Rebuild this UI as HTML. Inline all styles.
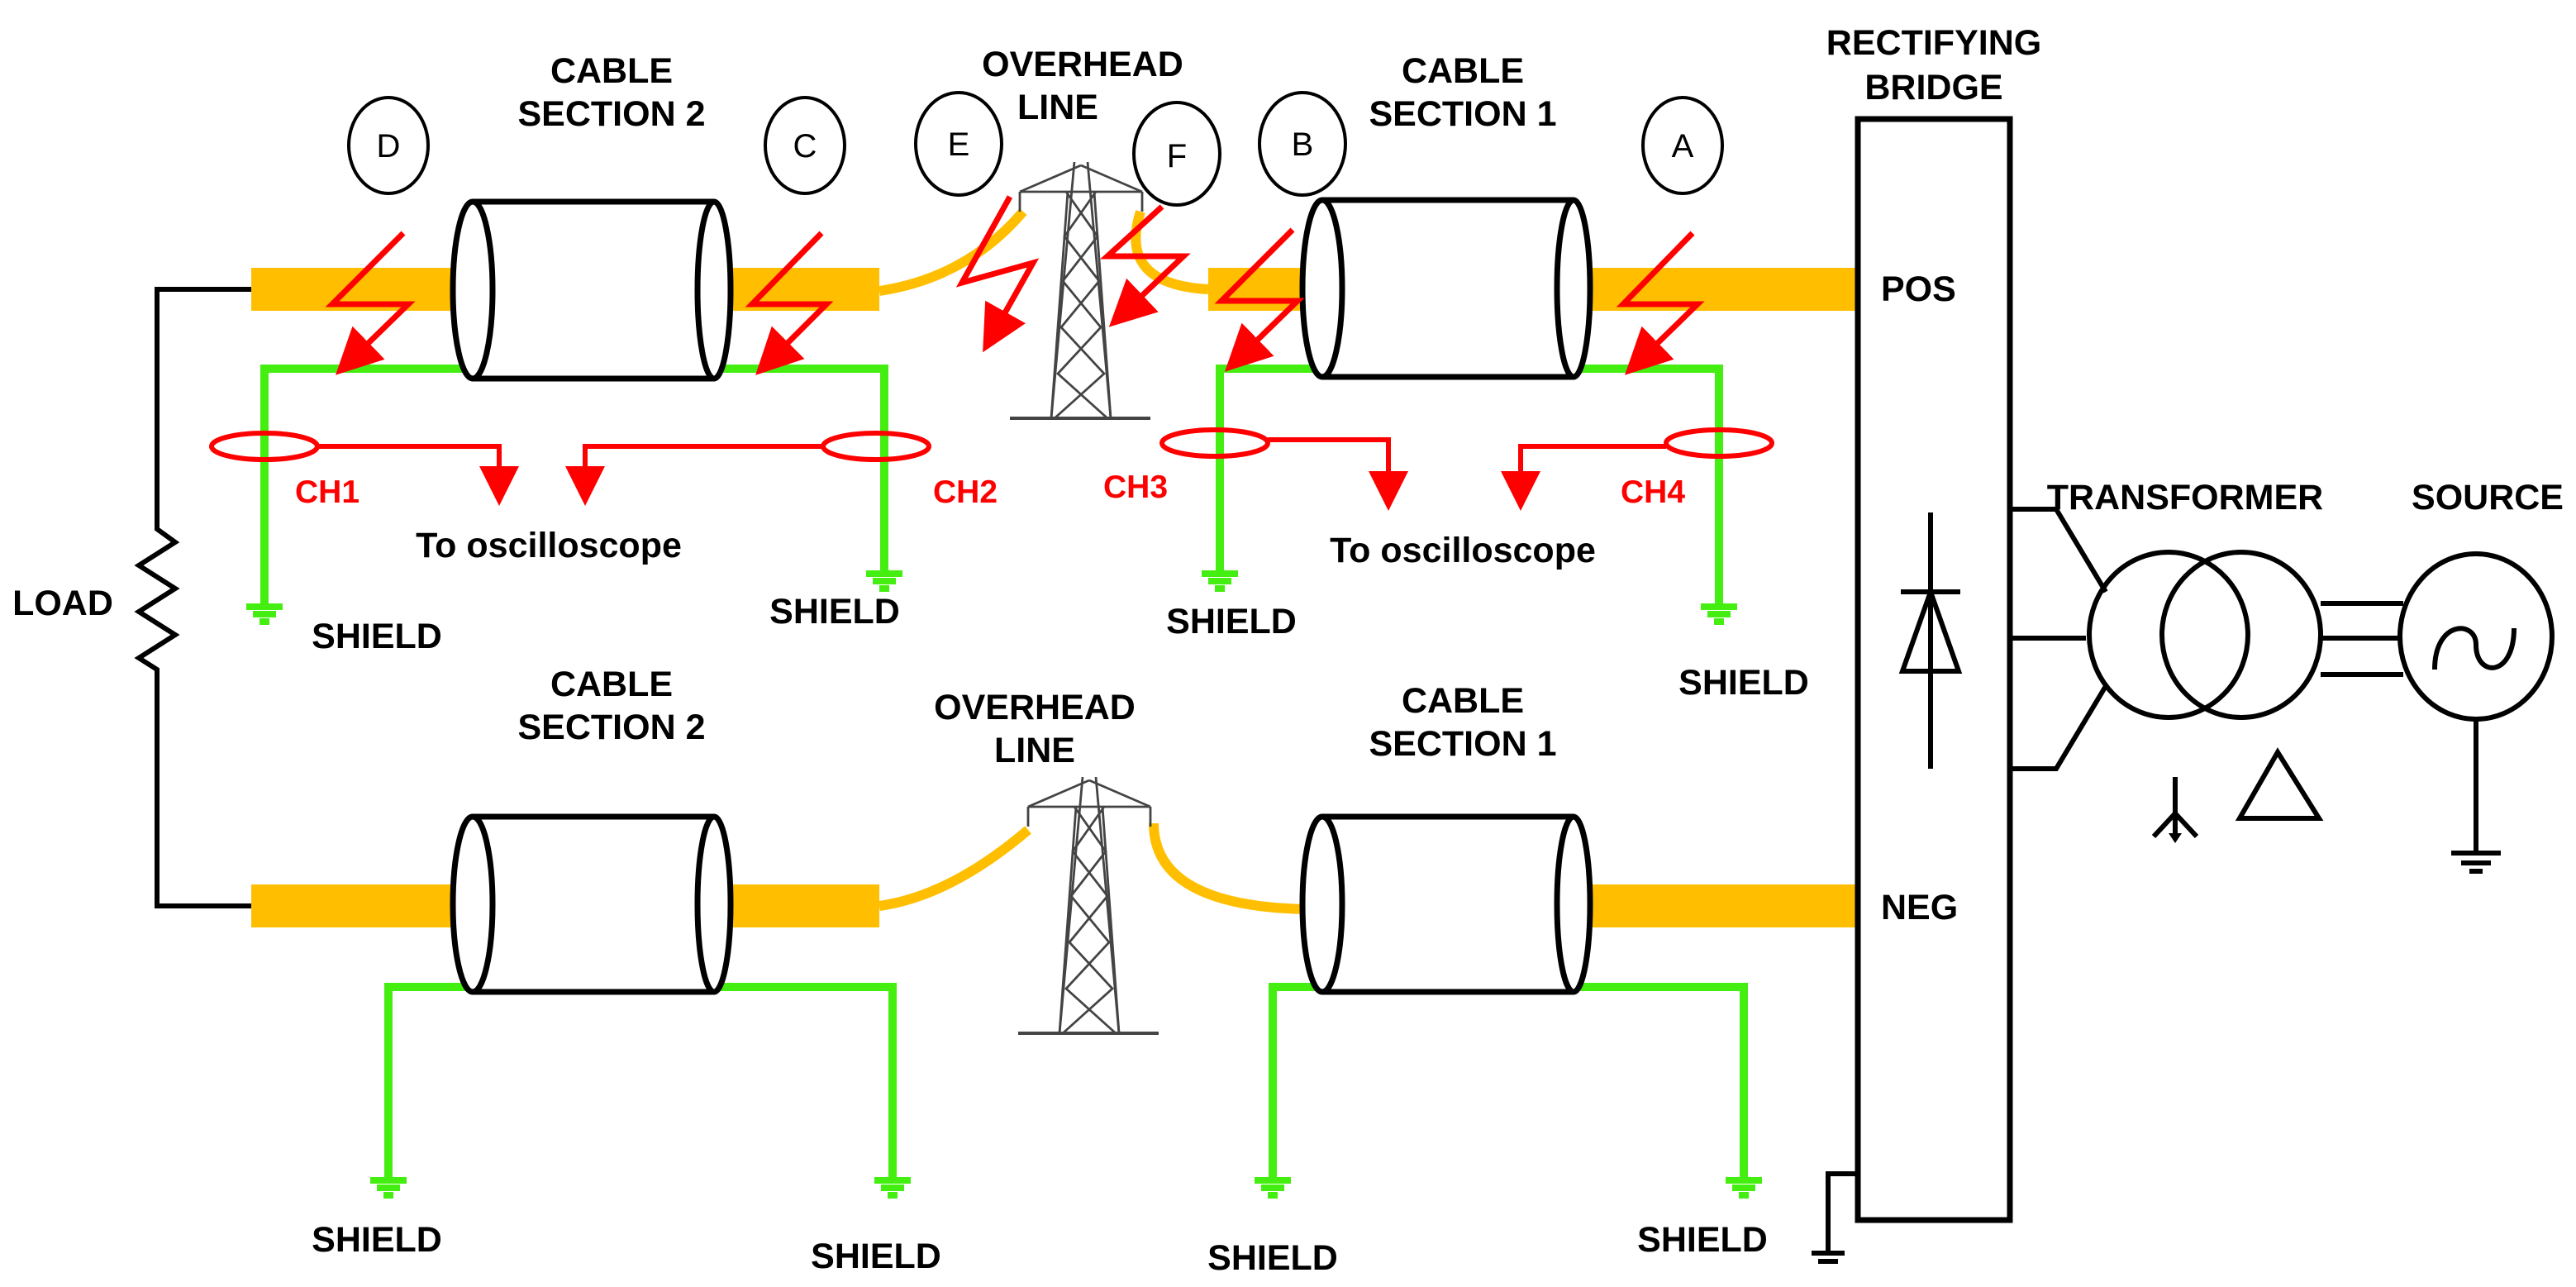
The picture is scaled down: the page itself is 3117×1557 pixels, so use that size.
<!DOCTYPE html>
<html><head><meta charset="utf-8"><style>html,body{margin:0;padding:0;background:#fff}svg{display:block}</style></head><body>
<svg width="3117" height="1557" viewBox="0 0 1558.5 778.5" xmlns="http://www.w3.org/2000/svg" font-family="Liberation Sans, Arial, sans-serif" font-weight="bold">
<defs>
<g id="gnd"><line x1="-11" y1="0" x2="11" y2="0" stroke="#44ee11" stroke-width="4"/><line x1="-7" y1="4.5" x2="7" y2="4.5" stroke="#44ee11" stroke-width="4"/><line x1="-3" y1="9" x2="3" y2="9" stroke="#44ee11" stroke-width="4"/></g>
<marker id="ah" markerWidth="8" markerHeight="8" refX="6" refY="4" orient="auto" markerUnits="strokeWidth"><path d="M0,0 L8,4 L0,8 z" fill="#ff0000"/></marker>
<g id="tower" stroke="#444" stroke-width="1.4" fill="none">
<line x1="-37" y1="18" x2="37" y2="18"/><line x1="-37" y1="18" x2="0" y2="2"/><line x1="37" y1="18" x2="0" y2="2"/>
<line x1="-37" y1="18" x2="-37" y2="30"/><line x1="37" y1="18" x2="37" y2="30"/>
<line x1="-4" y1="0" x2="-18" y2="155"/><line x1="4" y1="0" x2="18" y2="155"/>
<line x1="-8" y1="18" x2="-18" y2="155"/><line x1="8" y1="18" x2="18" y2="155"/>
<path d="M-9,18 L10,45 L-11,72 L12,100 L-14,128 L16,155 M9,18 L-10,45 L11,72 L-12,100 L14,128 L-16,155"/>
<line x1="-43" y1="155" x2="42" y2="155" stroke-width="2"/></g>
</defs>
<g font-size="21.5" text-anchor="middle" fill="#000">
<text x="370" y="50">CABLE</text><text x="370" y="76">SECTION 2</text>
<text x="655" y="46">OVERHEAD</text><text x="640" y="72">LINE</text>
<text x="885" y="50">CABLE</text><text x="885" y="76">SECTION 1</text>
<text x="1170" y="33">RECTIFYING</text><text x="1170" y="60">BRIDGE</text>
<text x="370" y="421">CABLE</text><text x="370" y="447">SECTION 2</text>
<text x="626" y="435">OVERHEAD</text><text x="626" y="461">LINE</text>
<text x="885" y="431">CABLE</text><text x="885" y="457">SECTION 1</text>
<text x="228" y="392">SHIELD</text><text x="505" y="377">SHIELD</text><text x="745" y="383">SHIELD</text><text x="1055" y="420">SHIELD</text>
<text x="228" y="757">SHIELD</text><text x="530" y="767">SHIELD</text><text x="770" y="768">SHIELD</text><text x="1030" y="757">SHIELD</text>
<text x="332" y="337">To oscilloscope</text><text x="885" y="340">To oscilloscope</text>
<text x="38" y="372">LOAD</text>
<text x="1322" y="308">TRANSFORMER</text><text x="1505" y="308">SOURCE</text>
</g>
<g font-size="21.5" fill="#000"><text x="1138" y="182">POS</text><text x="1138" y="556">NEG</text></g>
<g font-size="19.5" fill="#ff0000" text-anchor="middle"><text x="198" y="304">CH1</text><text x="584" y="304">CH2</text><text x="687" y="301">CH3</text><text x="1000" y="304">CH4</text></g>
<!-- orange -->
<g fill="#ffbf00"><rect x="152" y="162" width="125" height="26"/><rect x="425" y="162" width="107" height="26"/><rect x="731" y="162" width="62" height="26"/><rect x="940" y="162" width="184" height="26"/>
<rect x="152" y="535" width="125" height="26"/><rect x="425" y="535" width="107" height="26"/><rect x="940" y="535" width="184" height="26"/></g>
<g stroke="#ffbf00" stroke-width="6" fill="none"><path d="M532,176 Q585,168 619,128"/><path d="M690,128 Q676,172 731,175"/><path d="M532,548 Q575,542 622,502"/><path d="M698,498 Q698,548 790,550"/></g>
<use href="#tower" x="654" y="98"/><use href="#tower" x="659" y="470"/>
<!-- green -->
<g stroke="#44ee11" stroke-width="5" fill="none"><path d="M160,365 V223 H535 V345"/><path d="M738,345 V223 H1040 V365"/><path d="M235,712 V597 H540 V712"/><path d="M770,712 V597 H1055 V712"/></g>
<use href="#gnd" x="160" y="367"/><use href="#gnd" x="535" y="347"/><use href="#gnd" x="738" y="347"/><use href="#gnd" x="1040" y="367"/>
<use href="#gnd" x="235" y="714"/><use href="#gnd" x="540" y="714"/><use href="#gnd" x="770" y="714"/><use href="#gnd" x="1055" y="714"/>
<!-- cables -->
<g stroke="#000" stroke-width="3.5" fill="#fff">
<rect x="286" y="122" width="146" height="107" stroke="none"/><path d="M286,122 H432 M286,229 H432"/><ellipse cx="286" cy="175.5" rx="12" ry="53.5"/><path d="M432,122 A10,53.5 0 0 1 432,229 A10,53.5 0 0 1 432,122" />
<rect x="800" y="121" width="152" height="107" stroke="none"/><path d="M800,121 H952 M800,228 H952"/><ellipse cx="800" cy="174.5" rx="12" ry="53.5"/><path d="M952,121 A10,53.5 0 0 1 952,228 A10,53.5 0 0 1 952,121"/>
<rect x="286" y="494" width="146" height="106" stroke="none"/><path d="M286,494 H432 M286,600 H432"/><ellipse cx="286" cy="547" rx="12" ry="53"/><path d="M432,494 A10,53 0 0 1 432,600 A10,53 0 0 1 432,494"/>
<rect x="800" y="494" width="152" height="106" stroke="none"/><path d="M800,494 H952 M800,600 H952"/><ellipse cx="800" cy="547" rx="12" ry="53"/><path d="M952,494 A10,53 0 0 1 952,600 A10,53 0 0 1 952,494"/>
</g>
<!-- circles -->
<g stroke="#000" stroke-width="2" fill="#fff"><ellipse cx="235" cy="88" rx="24" ry="29"/><ellipse cx="487" cy="88" rx="24" ry="29"/><ellipse cx="580" cy="87" rx="26" ry="31"/><ellipse cx="712" cy="93" rx="26" ry="31"/><ellipse cx="788" cy="87" rx="26" ry="31"/><ellipse cx="1018" cy="88" rx="24" ry="29"/></g>
<g font-size="20" font-weight="normal" text-anchor="middle"><text x="235" y="95">D</text><text x="487" y="95">C</text><text x="580" y="94">E</text><text x="712" y="101">F</text><text x="788" y="94">B</text><text x="1018" y="95">A</text></g>
<!-- lightning -->
<g stroke="#ff0000" stroke-width="3.5" fill="none" marker-end="url(#ah)">
<path d="M244,141 L201,184 L247,184 L208,222"/><path d="M497,141 L455,184 L500,184 L462,222"/><path d="M1024,141 L982,184 L1027,184 L988,222"/>
<path d="M782,139 L739,182 L785,182 L746,220"/>
<path d="M611,119 L582,171 L625,159 L598,207"/><path d="M703,125 L670,155 L716,155 L676,193"/>
</g>
<!-- CTs -->
<g stroke="#ff0000" stroke-width="3" fill="none">
<ellipse cx="160" cy="270" rx="32" ry="8"/><ellipse cx="530" cy="270" rx="32" ry="8"/><ellipse cx="735" cy="268" rx="32" ry="8"/><ellipse cx="1040" cy="268" rx="32" ry="8"/>
<path d="M192,270 H302 V300" marker-end="url(#ah)"/><path d="M498,270 H354 V300" marker-end="url(#ah)"/><path d="M767,266 H840 V303" marker-end="url(#ah)"/><path d="M1008,270 H920 V303" marker-end="url(#ah)"/>
</g>
<!-- load & right side -->
<g stroke="#000" stroke-width="3" fill="none">
<path d="M152,175 H95 V320 L106,328 L84,342 L106,356 L84,370 L106,384 L84,398 L95,405 V548 H152"/>
<rect x="1124" y="72" width="92" height="666" stroke-width="3.5"/>
<path d="M1168,310 V465 M1150,358 H1186 M1168,358 L1151,406 H1185 Z"/>
<path d="M1124,710 H1106 V758 M1096,758 H1116 M1100,763 H1112"/>
<path d="M1216,308 H1244 L1274,358 M1216,386 H1262 M1216,465 H1244 L1274,415"/>
<ellipse cx="1312" cy="384" rx="48" ry="50"/><ellipse cx="1356" cy="384" rx="48" ry="50"/>
<path d="M1404,365 H1454 M1404,386 H1452 M1404,408 H1454"/>
<ellipse cx="1498" cy="385" rx="46" ry="50"/>
<path d="M1473,405 C1473,375 1498,375 1498,390 C1498,410 1521,410 1521,380"/>
<path d="M1498,435 V516 M1483,516 H1513 M1489,522 H1507 M1494,527 H1502"/>
<path d="M1316,470 V505 M1316,492 L1303,506 M1316,492 L1329,506"/>
<path d="M1378,455 L1355,495 H1403 Z"/>
</g>
<path d="M1312,504 L1320,504 L1316,510 Z" fill="#000"/>
</svg>
</body></html>
